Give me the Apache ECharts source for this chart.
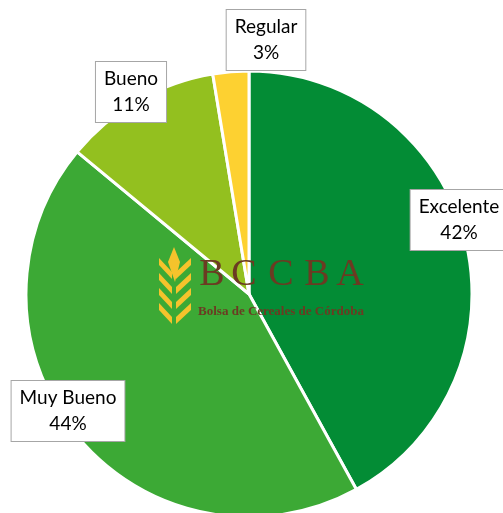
<!DOCTYPE html>
<html>
<head>
<meta charset="utf-8">
<script src="https://cdn.jsdelivr.net/npm/echarts@6/dist/echarts.min.js"></script>
<style>
    html, body { margin: 0; padding: 0; background: #fff; }
    #chart { width: 503px; height: 513px; }
</style>
</head>
<body>
<div id="chart"></div>
<script>
// datos de condicion del cultivo
var categories = ['Excelente', 'Muy Bueno', 'Bueno', 'Regular'];
var values = [42, 44, 11.4, 2.6];
var colors = ['#038c35', '#3ca935', '#93c01f', '#fdd131'];

// posicion de cada etiqueta (centro de la caja)
var labelPos = [[459, 220], [68, 411], [131, 92], [266, 40]];

var pieData = [];
categories.forEach(function (name, i) {
    pieData.push({
        name: name,
        value: values[i],
        itemStyle: { color: colors[i] }
    });
});

// espiga del logo
var wheat = [];
wheat.push({ type: 'polygon', z: 100, shape: { points: [[174, 247], [180, 262], [175, 282], [168, 262]] }, style: { fill: '#f5c32c' } });
[272, 287, 302, 317].forEach(function (y) {
    wheat.push({ type: 'polygon', z: 100, shape: { points: [[176, y], [191, y - 14], [191, y - 7], [176, y + 7]] }, style: { fill: '#f5c32c' } });
    wheat.push({ type: 'polygon', z: 100, shape: { points: [[172, y], [159, y - 14], [159, y - 7], [172, y + 7]] }, style: { fill: '#f5c32c' } });
});

var letters = ['B', 'C', 'C', 'B', 'A'];
var letterX = [212, 244, 281, 317, 350];
var logoText = letters.map(function (l, i) {
    return {
        type: 'text', z: 100, x: letterX[i], y: 294,
        style: { text: l, fill: '#6b3b22', font: '38px "Liberation Serif", serif', align: 'center', verticalAlign: 'bottom' }
    };
});
logoText.push({
    type: 'text', z: 100, x: 281, y: 312,
    style: { text: 'Bolsa de Cereales de Córdoba', fill: '#6b3b22', font: 'bold 13px "Liberation Serif", serif', align: 'center', verticalAlign: 'middle' }
});

var chart = echarts.init(document.getElementById('chart'));
chart.setOption({
    animation: false,
    series: [{
        type: 'pie',
        center: [249, 294],
        radius: 223,
        startAngle: 90,
        clockwise: true,
        data: pieData,
        itemStyle: { borderColor: '#fff', borderWidth: 3 },
        label: {
            show: true,
            position: 'inside',
            overflow: 'none',
            formatter: function (p) {
                return p.name + '\n' + Math.round(p.percent) + '%';
            },
            fontFamily: 'Lato',
            fontSize: 19,
            lineHeight: 26,
            color: '#000',
            backgroundColor: '#fff',
            borderColor: '#a6a6a6',
            borderWidth: 1,
            padding: [4, 8],
            align: 'center'
        },
        labelLine: { show: false },
        labelLayout: function (params) {
            var pos = labelPos[params.dataIndex];
            return { x: pos[0], y: pos[1], align: 'center', verticalAlign: 'middle' };
        },
        emphasis: { disabled: true }
    }],
    graphic: wheat.concat(logoText)
});
</script>
</body>
</html>
